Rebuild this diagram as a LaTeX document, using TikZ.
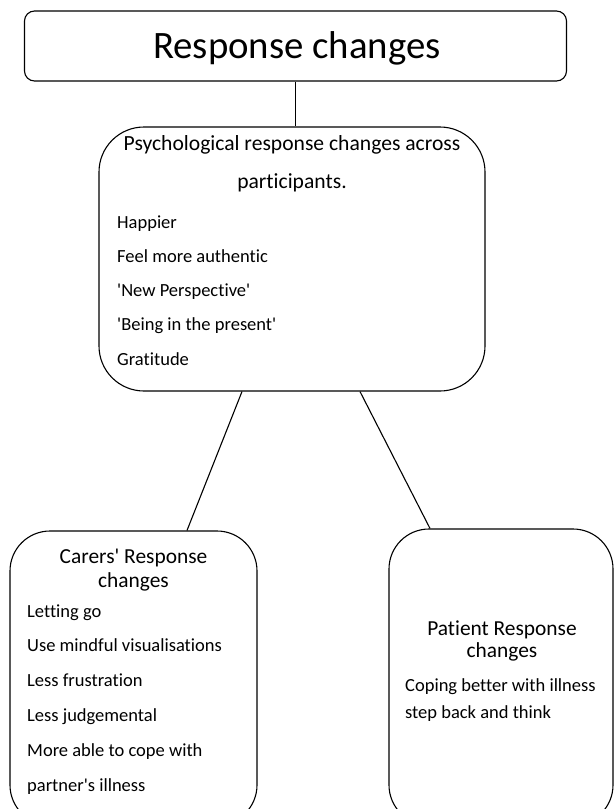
\documentclass[tikz,border=0pt]{standalone}
\usepackage{fontspec}
\setmainfont{Carlito}[Ligatures={TeXOff,NoCommon}]
\usetikzlibrary{calc}
\begin{document}
\begin{tikzpicture}[x=1pt,y=-1pt,
  rbox/.style={draw, line width=1.1pt, rounded corners=#1, inner sep=0pt},
  title/.style={inner sep=0pt, anchor=base, font=\fontsize{38.8}{46}\selectfont},
  head/.style={inner sep=0pt, anchor=base, font=\fontsize{21.4}{26}\selectfont},
  item/.style={inner sep=0pt, anchor=base west, font=\fontsize{18.5}{22}\selectfont},
  link/.style={line width=1.1pt}]
\useasboundingbox (0,0) rectangle (616,809);
% boxes
\node[rbox=10pt, minimum width=542pt, minimum height=70pt] (top) at (295.5,46) {};
\node[rbox=45pt, minimum width=386pt, minimum height=264pt] (psych) at (292,259) {};
\node[rbox=40pt, minimum width=247pt, minimum height=294pt] (carers) at (133.5,678) {};
\node[rbox=40pt, minimum width=224pt, minimum height=296pt] (patient) at (501,677) {};
% connectors
\draw[link] (top.south) -- (top.south |- psych.north);
\draw[link] ($(psych.south)+(-50,0)$) -- ($(carers.north)+(53.5,0)$);
\draw[link] ($(psych.south)+(68,0)$) -- ($(patient.north)+(-71,0)$);
% title
\node[title] (toptxt) at (297,58) {Response changes};
% psychological
\node[head, font=\fontsize{21.6}{26}\selectfont] (ph1) at (292,150) {Psychological response changes across};
\node[head, font=\fontsize{21.6}{26}\selectfont] (ph2) at (292,188) {participants.};
\node[item] (pi1) at (117,228) {Happier};
\node[item] (pi2) at (117,262.3) {Feel more authentic};
\node[item] (pi3) at (117,296.5) {'New Perspective'};
\node[item] (pi4) at (117,330.8) {'Being in the present'};
\node[item] (pi5) at (117,365) {Gratitude};
% carers
\node[head] (ch1) at (133.5,563) {Carers' Response};
\node[head] (ch2) at (133.5,587) {changes};
\node[item] (ci1) at (27,617) {Letting go};
\node[item] (ci2) at (27,651.8) {Use mindful visualisations};
\node[item] (ci3) at (27,686.6) {Less frustration};
\node[item] (ci4) at (27,721.4) {Less judgemental};
\node[item] (ci5) at (27,756.2) {More able to cope with};
\node[item] (ci6) at (27,791) {partner's illness};
% patient
\node[head] (qh1) at (502,635) {Patient Response};
\node[head] (qh2) at (502,657) {changes};
\node[item] (qi1) at (405,691) {Coping better with illness};
\node[item] (qi2) at (405,718) {step back and think};
\end{tikzpicture}
\end{document}
